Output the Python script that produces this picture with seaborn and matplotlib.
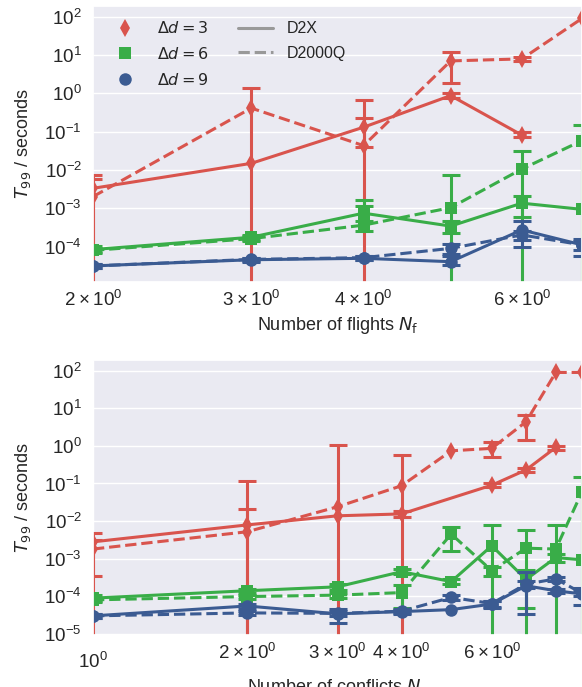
import numpy as np
import matplotlib
matplotlib.use("Agg")
import matplotlib.pyplot as plt
from matplotlib.lines import Line2D
from matplotlib.ticker import LogLocator
import seaborn as sns

nan = np.nan

# ---------------------------------------------------------------- data
# x values
flights = [2, 3, 4, 5, 6, 7]
conflicts = [1, 2, 3, 4, 5, 6, 7, 8, 9]

# T99 vs number of flights: value, lower end and upper end of the error bar
# (a lower end of 0 means the bar runs off the bottom of the log axis)
f_d2x_d3 = [3.3e-3, 0.0148, 0.13, 0.87, 0.081, nan]
f_d2x_d3_lo = [0, nan, 0.04, 0.75, 0.07, nan]
f_d2x_d3_hi = [7.4e-3, nan, 0.22, 1.0, 0.095, nan]
f_dq_d3 = [2.0e-3, 0.41, 0.043, 7.0, 7.9, 90]
f_dq_d3_lo = [0, 0, 0, 1.89, 7.0, nan]
f_dq_d3_hi = [5.8e-3, 1.38, 0.67, 12.2, 8.9, nan]

f_d2x_d6 = [8.3e-5, 1.74e-4, 7.4e-4, 3.4e-4, 1.35e-3, 9.3e-4]
f_d2x_d6_lo = [7e-5, 1.5e-4, 4.5e-4, 2.3e-4, 6e-4, nan]
f_d2x_d6_hi = [1e-4, 2.0e-4, 1.64e-3, 4.5e-4, 2.1e-3, nan]
f_dq_d6 = [7.9e-5, 1.6e-4, 3.6e-4, 1.03e-3, 0.0105, 0.058]
f_dq_d6_lo = [6.8e-5, 1.4e-4, 2.6e-4, 0, 0, 0]
f_dq_d6_hi = [9.2e-5, 1.85e-4, 1.16e-3, 7.4e-3, 0.0317, 0.148]

f_d2x_d9 = [3.1e-5, 4.5e-5, 4.9e-5, 4.0e-5, 2.7e-4, 1.1e-4]
f_d2x_d9_lo = [2.7e-5, 4.0e-5, 4.3e-5, 3.3e-5, 9.6e-5, 5.6e-5]
f_d2x_d9_hi = [3.5e-5, 5.0e-5, 5.5e-5, 5.6e-5, 4.5e-4, 1.6e-4]
f_dq_d9 = [3.1e-5, 4.6e-5, 5.1e-5, 8.9e-5, 2.0e-4, 1.1e-4]
f_dq_d9_lo = [2.8e-5, 4.1e-5, 4.5e-5, 6.5e-5, 1.5e-4, 8e-5]
f_dq_d9_hi = [3.4e-5, 5.1e-5, 5.7e-5, 1.15e-4, 2.6e-4, 1.4e-4]

# T99 vs number of conflicts
c_d2x_d3 = [2.8e-3, 7.9e-3, 0.0138, 0.0155, nan, 0.09, 0.23, 0.91, nan]
c_d2x_d3_lo = [0, 0, nan, 0.013, nan, 0.08, 0.2, 0.8, nan]
c_d2x_d3_hi = [4.8e-3, 0.021, nan, 0.018, nan, 0.1, 0.26, 1.0, nan]
c_dq_d3 = [1.8e-3, 5.2e-3, 0.024, 0.087, 0.74, 0.86, 4.4, 90, 90]
c_dq_d3_lo = [3.5e-4, 0, 0, 0, nan, 0.51, 1.44, nan, nan]
c_dq_d3_hi = [3.2e-3, 0.115, 1.06, 0.57, nan, 1.29, 6.6, nan, nan]

c_d2x_d6 = [8.9e-5, 1.4e-4, 1.78e-4, 4.5e-4, 2.45e-4, 2.2e-3, 2.8e-4, 1.07e-3, 9.3e-4]
c_d2x_d6_lo = [7.5e-5, 1.2e-4, 1.5e-4, 3.8e-4, 2.1e-4, 0, 5e-5, 8e-4, nan]
c_d2x_d6_hi = [1.05e-4, 1.6e-4, 2.1e-4, 5.2e-4, 2.8e-4, 8.1e-3, 5e-4, 1.35e-3, nan]
c_dq_d6 = [8e-5, 9.8e-5, 1.07e-4, 1.25e-4, 4.5e-3, 4.8e-4, 1.9e-3, 1.8e-3, 0.06]
c_dq_d6_lo = [7e-5, 8.5e-5, 9e-5, 5e-5, 1.6e-3, 3.5e-4, 0, 0, 0]
c_dq_d6_hi = [9e-5, 1.1e-4, 1.25e-4, 2.0e-4, 7.1e-3, 6e-4, 5.8e-3, 8.1e-3, 0.15]

c_d2x_d9 = [3e-5, 5.5e-5, 3.4e-5, 3.9e-5, 4.4e-5, 6.2e-5, 1.9e-4, 1.4e-4, 1.15e-4]
c_d2x_d9_lo = [2.6e-5, 4.6e-5, 2e-5, 3.4e-5, nan, 4.8e-5, 3.4e-5, 1.2e-4, 6e-5]
c_d2x_d9_hi = [3.4e-5, 6.4e-5, 4.6e-5, 4.4e-5, nan, 7.6e-5, 4.5e-4, 1.6e-4, 1.7e-4]
c_dq_d9 = [3e-5, 3.6e-5, 3.5e-5, 4e-5, 9.3e-5, 6.4e-5, 2.1e-4, 2.9e-4, 1.2e-4]
c_dq_d9_lo = [2.7e-5, 3.2e-5, 3e-5, 3.5e-5, 8e-5, 5.2e-5, 1.7e-4, 2.5e-4, 1e-4]
c_dq_d9_hi = [3.3e-5, 4e-5, 4e-5, 4.5e-5, 1.05e-4, 7.6e-5, 2.5e-4, 3.3e-4, 1.4e-4]

delta_d = [3, 6, 9]
solvers = ["D2X", "D2000Q"]

# ---------------------------------------------------------------- style
sns.set_theme(style="darkgrid", context="notebook")
plt.rcParams["font.family"] = ["Liberation Sans", "DejaVu Sans"]
plt.rcParams["lines.solid_capstyle"] = "round"

colors = sns.xkcd_palette(["pale red", "medium green", "denim blue"])
markers = ["d", "s", "o"]
linestyles = ["-", "--"]
MS = 9
TICK_FS = 13.5

fig = plt.figure(figsize=(5.82, 6.87), dpi=100)
W, H = 582.0, 687.0
ax_top = fig.add_axes([93 / W, 1 - 282 / H, 489 / W, 276 / H])
ax_bot = fig.add_axes([93 / W, 1 - 635 / H, 489 / W, 275 / H])

panels = [
    (ax_top, flights,
     [[(f_d2x_d3, f_d2x_d3_lo, f_d2x_d3_hi), (f_dq_d3, f_dq_d3_lo, f_dq_d3_hi)],
      [(f_d2x_d6, f_d2x_d6_lo, f_d2x_d6_hi), (f_dq_d6, f_dq_d6_lo, f_dq_d6_hi)],
      [(f_d2x_d9, f_d2x_d9_lo, f_d2x_d9_hi), (f_dq_d9, f_dq_d9_lo, f_dq_d9_hi)]],
     (2, 7), (1.18e-5, 190), r"Number of flights $N_\mathrm{f}$"),
    (ax_bot, conflicts,
     [[(c_d2x_d3, c_d2x_d3_lo, c_d2x_d3_hi), (c_dq_d3, c_dq_d3_lo, c_dq_d3_hi)],
      [(c_d2x_d6, c_d2x_d6_lo, c_d2x_d6_hi), (c_dq_d6, c_dq_d6_lo, c_dq_d6_hi)],
      [(c_d2x_d9, c_d2x_d9_lo, c_d2x_d9_hi), (c_dq_d9, c_dq_d9_lo, c_dq_d9_hi)]],
     (1, 9), (9.3e-6, 193), r"Number of conflicts $N_\mathrm{c}$"),
]

for ax, xs, groups, xlim, ylim, xlabel in panels:
    ax.set_xscale("log")
    ax.set_yscale("log")
    for gi, group in enumerate(groups):
        for si, (vals, lo, hi) in enumerate(group):
            x = np.asarray(xs, float)
            y = np.asarray(vals, float)
            lo = np.asarray(lo, float)
            hi = np.asarray(hi, float)
            keep = ~np.isnan(y)
            x, y, lo, hi = x[keep], y[keep], lo[keep], hi[keep]
            # error bars only where both ends are given; a zero lower end
            # runs the bar down past the axis floor
            has_bar = ~np.isnan(lo) & ~np.isnan(hi)
            lo_b = np.maximum(lo[has_bar], 1e-30)
            yerr = np.vstack([y[has_bar] - lo_b, hi[has_bar] - y[has_bar]])
            ax.errorbar(x[has_bar], y[has_bar], yerr=yerr, fmt="none",
                        ecolor=colors[gi], elinewidth=2.2, capsize=6.5,
                        capthick=2.2)
            ax.plot(x, y, color=colors[gi], marker=markers[gi],
                    ls=linestyles[si], lw=2.2, ms=MS, mew=0)
    ax.set_xlim(*xlim)
    ax.set_ylim(*ylim)
    ax.yaxis.set_major_locator(LogLocator(base=10, numticks=20))
    ax.set_xlabel(xlabel, fontsize=13)
    ax.set_ylabel(r"$T_{99}$ / seconds", fontsize=13, labelpad=8)
    ax.tick_params(axis="x", which="major", labelsize=TICK_FS, pad=6)
    ax.tick_params(axis="x", which="minor", labelsize=TICK_FS, pad=1.5)
    ax.tick_params(axis="y", which="both", labelsize=TICK_FS, pad=2)

handles = [Line2D([], [], color=colors[i], marker=markers[i], ls="none",
                  ms=MS, mew=0, label=rf"$\Delta d = {d}$")
           for i, d in enumerate(delta_d)]
handles += [Line2D([], [], color="#999999", ls=ls, lw=2.2, label=s)
            for ls, s in zip(linestyles, solvers)]
ax_top.legend(handles=handles, ncol=2, loc="upper left", frameon=False,
              fontsize=11.5, handlelength=2.25, handletextpad=0.85,
              columnspacing=1.8, labelspacing=0.6)

fig.savefig("out.png", dpi=100)
